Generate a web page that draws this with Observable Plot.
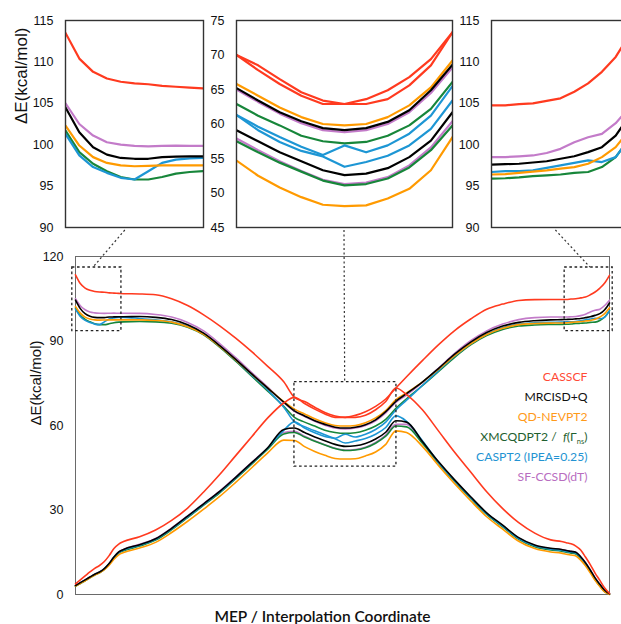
<!DOCTYPE html>
<html>
<head>
<meta charset="utf-8">
<script src="https://cdn.jsdelivr.net/npm/d3@7"></script>
<script src="https://cdn.jsdelivr.net/npm/@observablehq/plot@0.6"></script>
<style>
  html, body { margin: 0; padding: 0; background: #fff; }
  #chart { position: relative; width: 621px; height: 624px; overflow: hidden; background: #fff; }
  #chart svg { position: absolute; }
</style>
</head>
<body>
<div id="chart"></div>
<script>
// ---------- data ----------
const coord = [0,0.9,1.8,2.7,3.6,4.5,5.4,6.3,7.2,8.1,9, 12,15,18,21,24,27,30,33,36,39,
  41,42.9,44.8,46.7,48.6,50.5,52.4,54.3,56.2,58.1,60, 62,65,68,71,74,77,80,83,86,89,
  91,91.9,92.8,93.7,94.6,95.5,96.4,97.3,98.2,99.1,100];

const casscfUpper = [113.5,110.4,108.8,108.0,107.6,107.4,107.3,107.1,107.0,106.9,106.8,
  106.7,106.4,105.0,102.6,99.3,95.4,91.0,86.2,81.0,75.5,
  70.0,68.5,66.5,64.6,63.4,62.9,63.6,64.9,66.8,69.4,73.3,
  77.3,83.1,88.7,93.7,97.8,101.3,103.1,104.4,104.7,104.75,
  104.75,104.75,104.9,105.0,105.3,105.6,106.4,107.4,108.8,110.6,113.3];
const casscfLower = [3.8,5.2,6.6,8.0,9.3,10.3,11.7,13.8,16.3,17.9,18.8,
  20.5,22.9,26.3,30.7,36.4,42.6,49.3,56.0,62.7,68.0,
  70.0,67.8,65.8,64.1,62.9,62.9,62.9,63.6,65.6,68.5,73.3,
  71.0,65.5,58.0,50.5,43.5,36.5,30.5,25.5,21.8,19.4,
  18.8,18.4,18.0,17.2,15.8,13.3,10.6,7.6,5.0,2.3,0.4];

const mrcisdUpper = [104.5,101.5,99.7,98.8,98.4,98.3,98.3,98.5,98.55,98.6,98.6,
  98.7,98.4,97.6,95.8,92.8,88.4,83.5,78.3,73.3,68.3,
  65.2,63.4,61.7,60.4,59.4,59.1,59.4,60.3,62.0,64.9,68.6,
  71.3,75.5,80.3,85.3,89.6,93.0,95.3,96.6,97.2,97.5,
  97.6,97.65,97.7,97.85,98.0,98.3,98.6,99.1,99.7,101.1,103.5];
const mrcisdLower = [3.2,4.2,5.2,6.2,7.2,8.0,9.2,11.0,13.3,15.1,16.0,
  17.7,19.8,23.5,27.8,32.2,36.6,41.6,46.8,52.1,58.6,
  59.1,57.5,55.9,54.6,53.3,52.6,52.8,53.6,55.2,57.6,61.7,
  61.2,54.2,47.1,40.7,34.7,29.0,24.6,20.2,17.6,16.4,
  16.0,15.6,15.3,15.0,13.4,11.3,8.7,5.9,3.6,1.5,0.2];

const nevptUpper = [102.3,99.9,98.5,97.8,97.5,97.4,97.45,97.5,97.5,97.5,97.5,
  97.5,97.3,96.7,95.1,92.4,88.1,83.3,78.2,73.3,68.5,
  65.8,64.1,62.4,61.0,60.0,59.8,60.0,61.0,62.7,65.3,69.2,
  71.6,75.5,80.0,84.8,89.0,92.3,94.5,95.8,96.2,96.35,
  96.4,96.45,96.6,96.75,96.9,97.1,97.3,97.7,98.5,99.7,101.8];
const nevptLower = [3.0,3.9,4.9,5.9,6.9,7.7,8.8,10.4,12.5,14.1,14.9,
  16.5,18.5,22.0,26.0,30.3,34.8,39.8,45.0,50.3,54.8,
  54.7,52.5,50.8,49.4,48.3,48.1,48.2,49.2,50.6,53.3,58.1,
  57.5,52.5,45.7,39.3,33.3,27.6,23.2,18.9,16.3,15.1,
  14.7,14.3,14.0,13.7,12.2,10.2,7.7,5.0,2.8,0.9,0.0];

const xmcqdptUpper = [101.7,99.1,97.7,96.8,96.1,95.8,95.8,96.1,96.5,96.7,96.8,
  96.9,96.8,96.3,94.9,92.2,87.8,82.8,77.5,72.2,66.8,
  62.9,61.2,59.8,58.3,57.5,57.2,57.4,58.3,59.8,62.2,66.1,
  69.5,74.2,79.2,84.2,88.6,91.9,94.1,95.3,95.7,95.85,
  95.9,95.95,96.05,96.2,96.3,96.4,96.6,96.7,97.3,98.5,100.8];
const xmcqdptLower = [2.9,3.9,4.9,5.9,6.9,7.7,8.9,10.7,13.0,14.7,15.5,
  17.2,19.3,23.0,27.3,31.7,36.1,41.1,46.3,51.6,57.0,
  57.5,55.9,54.4,53.1,51.8,51.1,51.3,52.1,53.7,56.2,59.8,
  59.5,53.6,46.5,40.1,34.1,28.4,24.0,19.6,17.0,15.8,
  15.4,15.0,14.7,14.4,12.8,10.7,8.1,5.3,3.0,1.0,0.1];

const caspt2Upper = [101.3,98.7,97.3,96.6,96.0,95.8,96.8,97.8,98.2,98.35,98.4,
  98.0,97.5,96.8,95.2,92.5,88.2,83.2,77.9,72.6,66.5,
  61.3,59.6,58.1,56.7,55.5,56.9,55.9,56.9,58.6,61.2,65.5,
  69.0,74.3,79.5,84.6,89.0,92.4,94.7,96.0,96.5,96.65,
  96.7,96.8,96.8,96.9,97.2,97.5,97.8,98.1,97.9,98.5,100.8];
const caspt2Lower = [3.1,4.1,5.1,6.1,7.1,7.9,9.1,10.9,13.2,14.9,15.8,
  17.5,19.6,23.3,27.6,32.0,36.4,41.4,46.6,52.0,58.3,
  61.3,59.1,57.4,56.1,55.3,53.8,54.5,55.4,56.9,59.3,63.4,
  61.5,54.5,46.8,40.4,34.4,28.7,24.3,19.9,17.3,16.1,
  15.7,15.3,15.0,14.7,13.1,11.0,8.4,5.6,3.3,1.2,0.1];

const sfccsdUpper = [105.0,102.5,101.1,100.3,100.0,99.85,99.8,99.85,99.9,99.85,99.85,
  99.8,99.4,98.5,96.6,93.6,89.1,84.1,78.8,73.6,68.1,
  65.0,63.2,61.5,60.1,59.1,58.8,59.1,60.0,61.7,64.5,68.2,
  70.8,75.3,80.4,85.6,90.1,93.6,96.0,97.6,98.3,98.5,
  98.5,98.5,98.6,98.7,99.0,99.5,100.3,100.9,101.3,102.6,104.5];
const sfccsdLower = [3.2,4.2,5.2,6.2,7.2,8.0,9.2,11.0,13.3,15.1,16.0,
  17.8,19.9,23.6,27.9,32.3,36.7,41.7,46.9,52.0,57.5,
  57.9,56.2,54.6,53.2,51.9,51.3,51.5,52.3,54.0,56.6,60.4,
  60.4,54.0,46.9,40.5,34.5,28.8,24.4,20.0,17.4,16.2,
  16.0,15.6,15.3,15.0,13.4,11.3,8.7,5.9,3.6,1.5,0.2];

const methods = ["CASSCF", "MRCISD+Q", "QD-NEVPT2", "XMCQDPT2", "CASPT2", "SF-CCSD(dT)"];
const legendLabels = ["CASSCF", "MRCISD+Q", "QD-NEVPT2", "XMCQDPT2 /  f(Γns)", "CASPT2 (IPEA=0.25)", "SF-CCSD(dT)"];
const lineColors = ["#ff3a1f", "#000000", "#ff9a00", "#17863a", "#1d96d4", "#c37bc9"];
const labelColors = ["#ff4a35", "#111111", "#ff9a1a", "#1f5f30", "#2393d2", "#b86dbf"];

const mainTicks = [0, 30, 60, 90, 120];
const sideTicks = [90, 95, 100, 105, 110, 115];
const midTicks = [45, 50, 55, 60, 65, 70, 75];

const xTitle = "MEP / Interpolation Coordinate";
const yTitle = "ΔE(kcal/mol)";

// zoom windows: box in main plot, inset domain, connector anchor (inset x, box x)
const windows = [
  {box: [-0.6, 8.6, 93.5, 116.1], xDomain: [0, 9],   yDomain: [90, 115], insetX: 3.9,  boxX: 3.4},
  {box: [41, 60.1, 45.4, 75.4],   xDomain: [41, 60], yDomain: [45, 75],  insetX: 50.5, boxX: 50.5},
  {box: [91.6, 100.6, 93.5, 116.1], xDomain: [91, 100], yDomain: [90, 115], insetX: 95.2, boxX: 96.4}
];

// ---------- table ----------
const seriesList = [
  ["SF-CCSD(dT)", sfccsdUpper, sfccsdLower],
  ["XMCQDPT2", xmcqdptUpper, xmcqdptLower],
  ["CASPT2", caspt2Upper, caspt2Lower],
  ["QD-NEVPT2", nevptUpper, nevptLower],
  ["MRCISD+Q", mrcisdUpper, mrcisdLower],
  ["CASSCF", casscfUpper, casscfLower]
];
const rows = [];
for (const [m, up, lo] of seriesList) {
  [["upper", up], ["lower", lo]].forEach(([st, arr]) => {
    coord.forEach((x, i) => rows.push({method: m, key: m + "-" + st, x, y: arr[i]}));
  });
}

const colorScale = {domain: methods, range: lineColors};
const tickFont = "'Liberation Sans', Arial, Helvetica, sans-serif";
const humanist = "Lato, 'Open Sans', sans-serif";
const chart = document.getElementById("chart");

// ---------- main plot ----------
const mainTop = 236, mainLeft = 0;
const main = Plot.plot({
  width: 621, height: 388,
  marginLeft: 75, marginRight: 12, marginTop: 20, marginBottom: 30,
  x: {domain: [0, 100], axis: null},
  y: {domain: [0, 120], ticks: mainTicks, tickSize: 0, tickPadding: 12, label: null},
  color: colorScale,
  style: {fontFamily: tickFont, fontSize: "12.5px", background: "transparent", overflow: "visible", color: "#111"},
  marks: [
    Plot.frame({stroke: "#6a6a6a", strokeWidth: 1}),
    Plot.line(rows, {x: "x", y: "y", z: "key", stroke: "method", strokeWidth: 1.6, curve: "monotone-x"}),
    Plot.rect(windows, {x1: d => d.box[0], x2: d => d.box[1], y1: d => d.box[2], y2: d => d.box[3],
      fill: "none", stroke: "#222", strokeWidth: 1.3, strokeDasharray: "2.6,2.6"}),
    ...legendLabels.map((t, i) => Plot.text([t], {text: d => d, frameAnchor: "right", dx: -22, dy: -48 + i * 20,
      textAnchor: "end", fill: labelColors[i], fontSize: 12.2, fontFamily: humanist})),
    Plot.text([xTitle], {text: d => d, frameAnchor: "bottom", dx: -20, dy: 27, fontSize: 15.5, fontWeight: 600,
      fontFamily: humanist, fill: "#111"}),
    Plot.text([yTitle], {text: d => d, frameAnchor: "left", rotate: -90, dx: -39, fontSize: 15, fill: "#111",
      fontFamily: tickFont})
  ]
});
main.style.left = mainLeft + "px";
main.style.top = mainTop + "px";
chart.appendChild(main);

// rich text for the XMCQDPT2 legend entry
main.querySelectorAll("text").forEach(el => {
  if (el.textContent === legendLabels[3]) {
    const svgns = "http://www.w3.org/2000/svg";
    el.textContent = "";
    const parts = [["XMCQDPT2 /  ", {}], ["f", {"font-style": "italic"}], ["(Γ", {}],
      ["ns", {"font-size": "7.5", dy: "3"}], [")", {dy: "-3"}]];
    for (const [txt, attrs] of parts) {
      const ts = document.createElementNS(svgns, "tspan");
      for (const k in attrs) ts.setAttribute(k, attrs[k]);
      ts.textContent = txt;
      el.appendChild(ts);
    }
  }
});

// ---------- insets ----------
const insetSpecs = [
  {win: windows[0], left: 0, width: 210, mL: 65, mR: 7, ticks: sideTicks, title: true},
  {win: windows[1], left: 200, width: 260, mL: 36, mR: 8, ticks: midTicks, title: false},
  {win: windows[2], left: 455, width: 174, mL: 36, mR: 0, ticks: sideTicks, title: false}
];
const insets = insetSpecs.map(s => {
  const p = Plot.plot({
    width: s.width, height: 240,
    marginLeft: s.mL, marginRight: s.mR, marginTop: 20, marginBottom: 13,
    x: {domain: s.win.xDomain, axis: null},
    y: {domain: s.win.yDomain, ticks: s.ticks, tickSize: 0, tickPadding: 12, label: null},
    color: colorScale,
    style: {fontFamily: tickFont, fontSize: "12.5px", background: "transparent", overflow: "visible", color: "#111"},
    marks: [
      Plot.line(rows, {x: "x", y: "y", z: "key", stroke: "method", strokeWidth: 2.2, clip: true}),
      Plot.frame({stroke: "#333", strokeWidth: 1.4}),
      ...(s.title ? [Plot.text([yTitle], {text: d => d, frameAnchor: "left", rotate: -90, dx: -44,
        fontSize: 17, fill: "#111", fontFamily: tickFont})] : [])
    ]
  });
  p.style.left = s.left + "px";
  p.style.top = "0px";
  chart.appendChild(p);
  return {plot: p, spec: s};
});

// ---------- connectors ----------
const svgns = "http://www.w3.org/2000/svg";
const overlay = document.createElementNS(svgns, "svg");
overlay.setAttribute("width", 621);
overlay.setAttribute("height", 624);
overlay.style.left = "0px";
overlay.style.top = "0px";
const mx = main.scale("x"), my = main.scale("y");
insets.forEach(({plot, spec}) => {
  const ix = plot.scale("x"), iy = plot.scale("y");
  const w = spec.win;
  const line = document.createElementNS(svgns, "line");
  line.setAttribute("x1", spec.left + ix.apply(w.insetX));
  line.setAttribute("y1", iy.apply(w.yDomain[0]) + 3);
  line.setAttribute("x2", mainLeft + mx.apply(w.boxX));
  line.setAttribute("y2", mainTop + my.apply(w.box[3]));
  line.setAttribute("stroke", "#333");
  line.setAttribute("stroke-width", "1.2");
  line.setAttribute("stroke-dasharray", "2,2.5");
  overlay.appendChild(line);
});
chart.appendChild(overlay);
</script>
</body>
</html>
